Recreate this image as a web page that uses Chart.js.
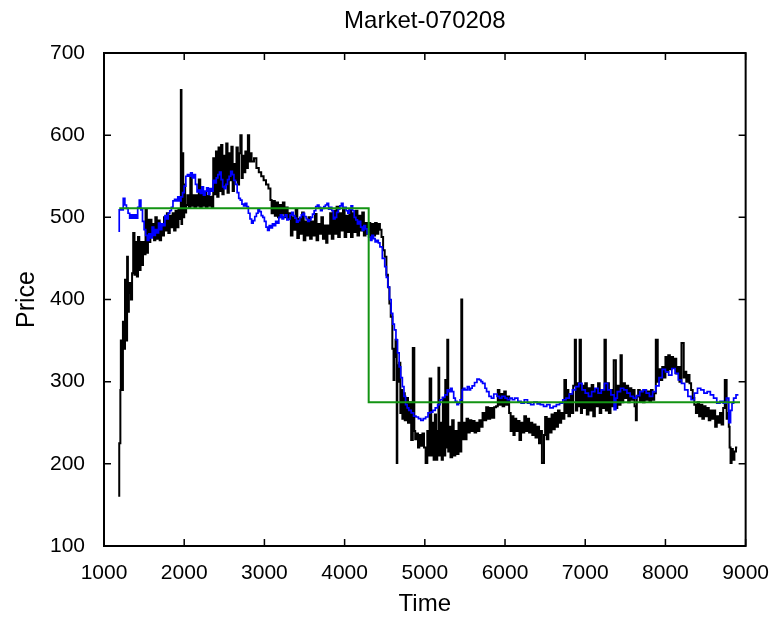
<!DOCTYPE html>
<html>
<head>
<meta charset="utf-8">
<script src="https://cdn.jsdelivr.net/npm/chart.js@4/dist/chart.umd.min.js"></script>
<style>
  body { margin: 0; background: #fff; }
  #wrap { width: 776px; height: 623px; }
</style>
</head>
<body>
<div id="wrap"><canvas id="market_canvas" width="776" height="623"></canvas></div>
<script>
// axis ticks
var xTicks = [1000, 2000, 3000, 4000, 5000, 6000, 7000, 8000, 9000];
var yTicks = [100, 200, 300, 400, 500, 600, 700];

// green: fitted price level
var greenSeries = [[1190,511],[4300,511],[4300,275],[8930,275]];

// blue: smoothed price
var blueSeries = [
  [1190,482],[1210,509],[1240,509],[1260,523],[1280,515],[1300,511],[1320,505],[1340,499],[1360,503],[1380,499],
  [1400,503],[1420,499],[1440,512],[1460,521],[1480,509],[1500,495],[1520,485],[1540,478],[1560,472],[1580,480],
  [1600,475],[1620,488],[1640,478],[1660,485],[1680,481],[1700,493],[1720,485],[1740,492],[1760,490],[1780,502],
  [1800,498],[1820,505],[1840,508],[1860,512],[1880,520],[1900,522],[1920,520],[1940,525],[1960,520],[1980,525],
  [2000,530],[2020,538],[2040,550],[2060,552],[2080,550],[2100,554],[2120,548],[2140,552],[2160,540],[2180,531],
  [2200,533],[2220,529],[2240,537],[2260,527],[2280,532],[2300,536],[2320,528],[2340,535],[2360,532],[2380,545],
  [2400,542],[2420,548],[2440,552],[2460,555],[2480,546],[2500,537],[2520,535],[2540,540],[2560,546],[2580,550],
  [2600,556],[2620,552],[2640,545],[2660,540],[2680,530],[2700,523],[2720,521],[2740,516],[2760,514],[2780,517],
  [2800,513],[2820,505],[2840,498],[2860,493],[2880,496],[2900,501],[2920,505],[2940,509],[2960,507],[2980,502],
  [3000,500],[3020,495],[3040,488],[3060,484],[3080,490],[3100,487],[3120,492],[3140,490],[3160,495],[3180,493],
  [3200,500],[3220,503],[3240,498],[3260,501],[3280,503],[3300,497],[3320,498],[3340,503],[3360,506],[3380,502],
  [3400,499],[3420,494],[3440,496],[3460,500],[3480,503],[3500,505],[3520,501],[3540,498],[3560,495],[3580,497],
  [3600,500],[3620,504],[3640,508],[3660,513],[3680,515],[3700,512],[3720,508],[3740,511],[3760,513],[3780,515],
  [3800,517],[3820,510],[3840,512],[3860,508],[3880,498],[3900,500],[3920,506],[3940,510],[3960,514],[3980,517],
  [4000,511],[4020,512],[4040,508],[4060,505],[4080,510],[4100,514],[4120,508],[4140,500],[4160,497],[4180,492],
  [4200,495],[4220,488],[4240,484],[4260,490],[4280,486],[4300,480],[4320,476],[4340,472],[4360,478],[4380,474],
  [4400,470],[4420,472],[4440,469],[4470,464],[4500,450],[4520,440],[4540,427],[4560,415],[4580,400],[4600,383],
  [4620,370],[4640,363],[4660,351],[4680,335],[4700,318],[4720,305],[4740,294],[4760,282],[4780,272],[4800,268],
  [4830,265],[4860,262],[4890,258],[4920,257],[4950,255],[4980,253],[5010,255],[5040,257],[5070,262],[5100,263],
  [5130,265],[5160,268],[5190,272],[5220,278],[5250,281],[5280,284],[5300,290],[5320,288],[5340,292],[5360,288],
  [5380,280],[5400,276],[5420,272],[5440,274],[5466,278],[5480,290],[5500,292],[5530,290],[5553,294],[5570,290],
  [5590,292],[5620,295],[5650,299],[5680,303],[5700,302],[5720,300],[5750,298],[5770,292],[5800,288],[5830,282],
  [5860,280],[5900,285],[5930,282],[5960,280],[6000,282],[6030,280],[6060,278],[6090,280],[6120,278],[6160,280],
  [6200,276],[6240,274],[6280,278],[6320,274],[6360,272],[6400,275],[6440,273],[6480,272],[6520,270],[6560,272],
  [6600,268],[6640,270],[6680,272],[6720,274],[6760,278],[6800,280],[6840,285],[6880,290],[6920,294],[6960,298],
  [7000,290],[7040,286],[7080,282],[7120,288],[7160,292],[7200,286],[7240,290],[7280,298],[7320,290],[7360,284],
  [7382,266],[7400,280],[7440,288],[7480,292],[7520,290],[7560,286],[7600,282],[7640,280],[7680,283],[7720,288],
  [7760,290],[7800,286],[7840,282],[7880,288],[7920,295],[7960,305],[8000,315],[8040,312],[8080,308],[8120,316],
  [8160,310],[8200,302],[8240,298],[8280,290],[8320,282],[8360,278],[8400,286],[8440,292],[8480,290],[8520,286],
  [8560,288],[8600,284],[8640,280],[8680,274],[8720,276],[8760,274],[8790,280],[8812,250],[8830,265],[8850,274],
  [8880,280],[8910,284]
];

// black: raw market price
var blackSeries = [
  [1190,160],[1196,225],[1204,225],[1210,290],[1216,350],[1228,350],[1236,290],[1252,373],[1262,340],[1276,424],
  [1288,350],[1298,452],[1310,385],[1322,408],[1336,420],[1350,400],[1364,432],[1380,481],[1394,430],[1410,470],
  [1424,428],[1440,476],[1456,436],[1470,470],[1486,442],[1502,470],[1518,455],[1534,509],[1548,457],[1562,497],
  [1578,470],[1592,497],[1608,481],[1624,492],[1640,472],[1658,500],[1676,474],[1694,496],[1712,472],[1730,492],
  [1748,478],[1766,500],[1784,484],[1802,505],[1820,481],[1838,502],[1856,488],[1874,505],[1892,484],[1910,508],
  [1928,488],[1946,510],[1958,498],[1966,655],[1974,492],[1988,578],[2000,500],[2012,540],[2024,506],
  [2040,515],[2058,527],[2076,512],[2094,549],[2110,514],[2128,527],[2146,512],[2164,527],[2182,514],[2200,546],
  [2218,512],[2236,528],[2254,514],[2272,530],[2290,512],[2308,526],[2326,514],[2344,525],[2362,512],
  [2380,572],[2396,528],[2412,580],[2428,525],[2444,585],[2460,532],[2476,588],[2492,528],[2508,575],[2524,540],
  [2540,590],[2556,530],[2572,578],[2588,545],[2604,586],[2620,532],[2636,565],[2652,545],[2668,585],[2684,540],
  [2700,578],[2716,600],[2730,548],[2746,575],[2762,555],[2778,580],[2794,560],[2810,600],[2822,568],
  [2840,578],[2870,568],[2900,572],[2930,560],[2960,555],[2990,550],[3020,545],[3050,540],[3075,535],[3090,521],
  [3110,505],[3130,520],[3150,502],[3170,518],[3190,500],[3210,515],[3230,505],[3250,518],[3270,500],[3290,512],
  [3310,498],[3330,505],[3350,478],[3370,500],[3390,485],[3410,509],[3430,475],[3450,498],[3470,480],[3490,506],
  [3510,472],[3530,495],[3550,478],[3570,500],[3590,474],[3610,495],[3630,478],[3650,504],[3670,472],[3690,492],
  [3710,480],[3730,500],[3750,474],[3770,490],[3786,469],[3800,490],[3820,480],[3840,505],[3860,474],[3880,508],
  [3900,480],[3920,513],[3940,476],[3960,505],[3980,484],[4000,510],[4020,476],[4040,502],[4060,482],[4080,510],
  [4100,476],[4120,505],[4140,482],[4160,508],[4180,478],[4200,502],[4220,484],[4240,506],[4260,478],[4280,493],
  [4300,480],[4320,493],[4340,476],[4360,492],[4380,478],[4400,493],[4420,480],[4440,492],[4460,485],
  [4480,476],[4500,460],[4521,452],[4540,430],[4558,415],[4575,395],[4595,379],[4610,340],[4620,302],[4635,330],
  [4650,351],[4657,201],[4665,320],[4680,300],[4695,323],[4707,262],[4720,290],[4735,255],[4750,286],[4769,253],
  [4790,280],[4810,250],[4830,275],[4850,229],[4869,341],[4880,240],[4900,230],[4915,237],[4931,220],[4950,235],
  [4970,222],[4990,237],[5010,220],[5031,201],[5045,240],[5060,210],[5080,304],[5095,210],[5110,250],[5125,205],
  [5140,260],[5155,205],[5170,240],[5180,317],[5195,210],[5210,250],[5225,205],[5240,280],[5255,210],[5267,302],
  [5280,220],[5292,351],[5305,215],[5320,245],[5341,208],[5360,253],[5380,210],[5400,240],[5420,212],[5440,250],
  [5455,215],[5466,400],[5480,230],[5500,250],[5520,230],[5540,255],[5560,238],[5580,253],[5600,240],[5620,252],
  [5640,238],[5660,250],[5680,240],[5700,253],[5720,245],[5740,262],[5765,253],[5790,269],[5815,255],[5840,268],
  [5865,256],[5889,269],[5910,270],[5930,290],[5950,272],[5970,285],[5990,270],[6010,288],[6030,272],[6051,282],
  [6070,262],[6088,240],[6105,258],[6120,235],[6140,255],[6160,240],[6180,252],[6200,229],[6220,250],[6240,238],
  [6262,258],[6280,240],[6300,255],[6320,238],[6340,250],[6360,235],[6380,248],[6400,232],[6424,245],[6440,225],
  [6460,240],[6486,201],[6500,235],[6520,257],[6540,230],[6560,255],[6580,238],[6600,260],[6620,242],[6640,262],
  [6660,245],[6680,265],[6700,250],[6720,262],[6740,255],[6760,302],[6775,262],[6790,290],[6810,258],[6830,285],
  [6850,262],[6870,295],[6884,351],[6900,265],[6915,298],[6930,270],[6946,351],[6960,262],[6980,295],[7000,268],
  [7020,298],[7040,260],[7060,292],[7080,265],[7100,296],[7120,258],[7140,290],[7160,270],[7180,298],[7200,262],
  [7220,290],[7240,268],[7257,351],[7275,265],[7295,298],[7315,262],[7335,290],[7355,270],[7382,326],[7400,268],
  [7420,295],[7440,272],[7456,332],[7475,275],[7495,298],[7515,280],[7535,295],[7555,275],[7575,292],[7595,278],
  [7615,290],[7631,270],[7643,253],[7660,282],[7680,290],[7700,276],[7720,288],[7740,275],[7760,290],[7780,278],
  [7800,288],[7820,276],[7840,290],[7860,278],[7880,286],[7904,351],[7920,300],[7940,315],[7960,302],[7980,318],
  [8000,305],[8016,330],[8035,312],[8055,332],[8075,315],[8095,330],[8115,318],[8135,328],[8155,310],[8175,318],
  [8200,300],[8228,347],[8240,305],[8260,312],[8280,300],[8300,308],[8320,298],[8340,290],[8360,280],[8380,272],
  [8400,262],[8420,275],[8440,258],[8460,272],[8480,255],[8500,270],[8520,258],[8540,268],[8560,253],[8580,265],
  [8600,255],[8620,265],[8640,245],[8660,258],[8680,250],[8700,262],[8720,248],[8740,268],[8763,302],[8775,255],
  [8790,262],[8800,245],[8812,220],[8825,201],[8840,218],[8860,205],[8880,215],[8895,220]
];

function toPoints(rows){
	var pts = [];
	for (var i in rows) {
		pts.push({x: rows[i][0], y: rows[i][1]});
	}
	return pts;
}

// matlab style box with inward ticks
var boxTicks = {
	id: 'boxTicks',
	afterDatasetsDraw: function(chart){
		var ctx = chart.ctx;
		var a = chart.chartArea;
		var sx = chart.scales.x, sy = chart.scales.y;
		var len = 7;
		ctx.save();
		ctx.strokeStyle = '#000';
		ctx.lineWidth = 1.5;
		ctx.beginPath();
		for (var i in xTicks) {
			var px = sx.getPixelForValue(xTicks[i]);
			ctx.moveTo(px, a.bottom); ctx.lineTo(px, a.bottom - len);
			ctx.moveTo(px, a.top); ctx.lineTo(px, a.top + len);
		}
		for (var j in yTicks) {
			var py = sy.getPixelForValue(yTicks[j]);
			ctx.moveTo(a.left, py); ctx.lineTo(a.left + len, py);
			ctx.moveTo(a.right, py); ctx.lineTo(a.right - len, py);
		}
		ctx.stroke();
		ctx.lineWidth = 2;
		ctx.strokeRect(a.left, a.top, a.right - a.left, a.bottom - a.top);
		ctx.restore();
	}
};

var fontName = "'Liberation Sans', Arial, sans-serif";

var chartdata = {
	datasets: [
		{
			label: 'Level',
			data: toPoints(greenSeries),
			borderColor: '#139413',
			borderWidth: 2,
			pointRadius: 0,
			fill: false
		},
		{
			label: 'Smoothed',
			data: toPoints(blueSeries),
			borderColor: '#0000ff',
			borderWidth: 1.7,
			pointRadius: 0,
			stepped: 'after',
			fill: false
		},
		{
			label: 'Price',
			data: toPoints(blackSeries),
			borderColor: '#000000',
			borderWidth: 2,
			pointRadius: 0,
			stepped: 'after',
			fill: false
		}
	]
};

var ctx = document.getElementById('market_canvas').getContext('2d');
var LineGraph = new Chart(ctx, {
	type: 'line',
	data: chartdata,
	plugins: [boxTicks],
	options: {
		responsive: false,
		animation: false,
		devicePixelRatio: 1,
		layout: { padding: { left: 0, right: 29, top: 0, bottom: 0 } },
		plugins: {
			legend: { display: false },
			tooltip: { enabled: false },
			title: { display: false }
		},
		scales: {
			x: {
				type: 'linear',
				position: 'bottom',
				min: 1000, max: 9000,
				grid: { display: false },
				border: { display: false },
				ticks: {
					stepSize: 1000, autoSkip: false, maxRotation: 0,
					padding: 7, color: '#000',
					font: { family: fontName, size: 21 },
					callback: function(v){ return v; }
				},
				title: {
					display: true, text: 'Time', color: '#000',
					font: { family: fontName, size: 24 },
					padding: { top: 0, bottom: 4 }
				},
				afterFit: function(s){ s.height = 77; }
			},
			top: {
				type: 'linear',
				position: 'top',
				min: 1000, max: 9000,
				grid: { display: false },
				border: { display: false },
				ticks: { display: false },
				title: {
					display: true, text: 'Market-070208', color: '#000',
					font: { family: fontName, size: 24 },
					padding: { top: 7, bottom: 0 }
				},
				afterFit: function(s){ s.height = 53; }
			},
			y: {
				type: 'linear',
				min: 100, max: 700,
				grid: { display: false },
				border: { display: false },
				ticks: {
					stepSize: 100, padding: 11, color: '#000',
					font: { family: fontName, size: 21 }
				},
				title: {
					display: true, text: 'Price', color: '#000',
					font: { family: fontName, size: 25 },
					padding: { top: 12, bottom: 0 }
				},
				afterFit: function(s){ s.width = 104; }
			}
		}
	}
});
</script>
</body>
</html>
